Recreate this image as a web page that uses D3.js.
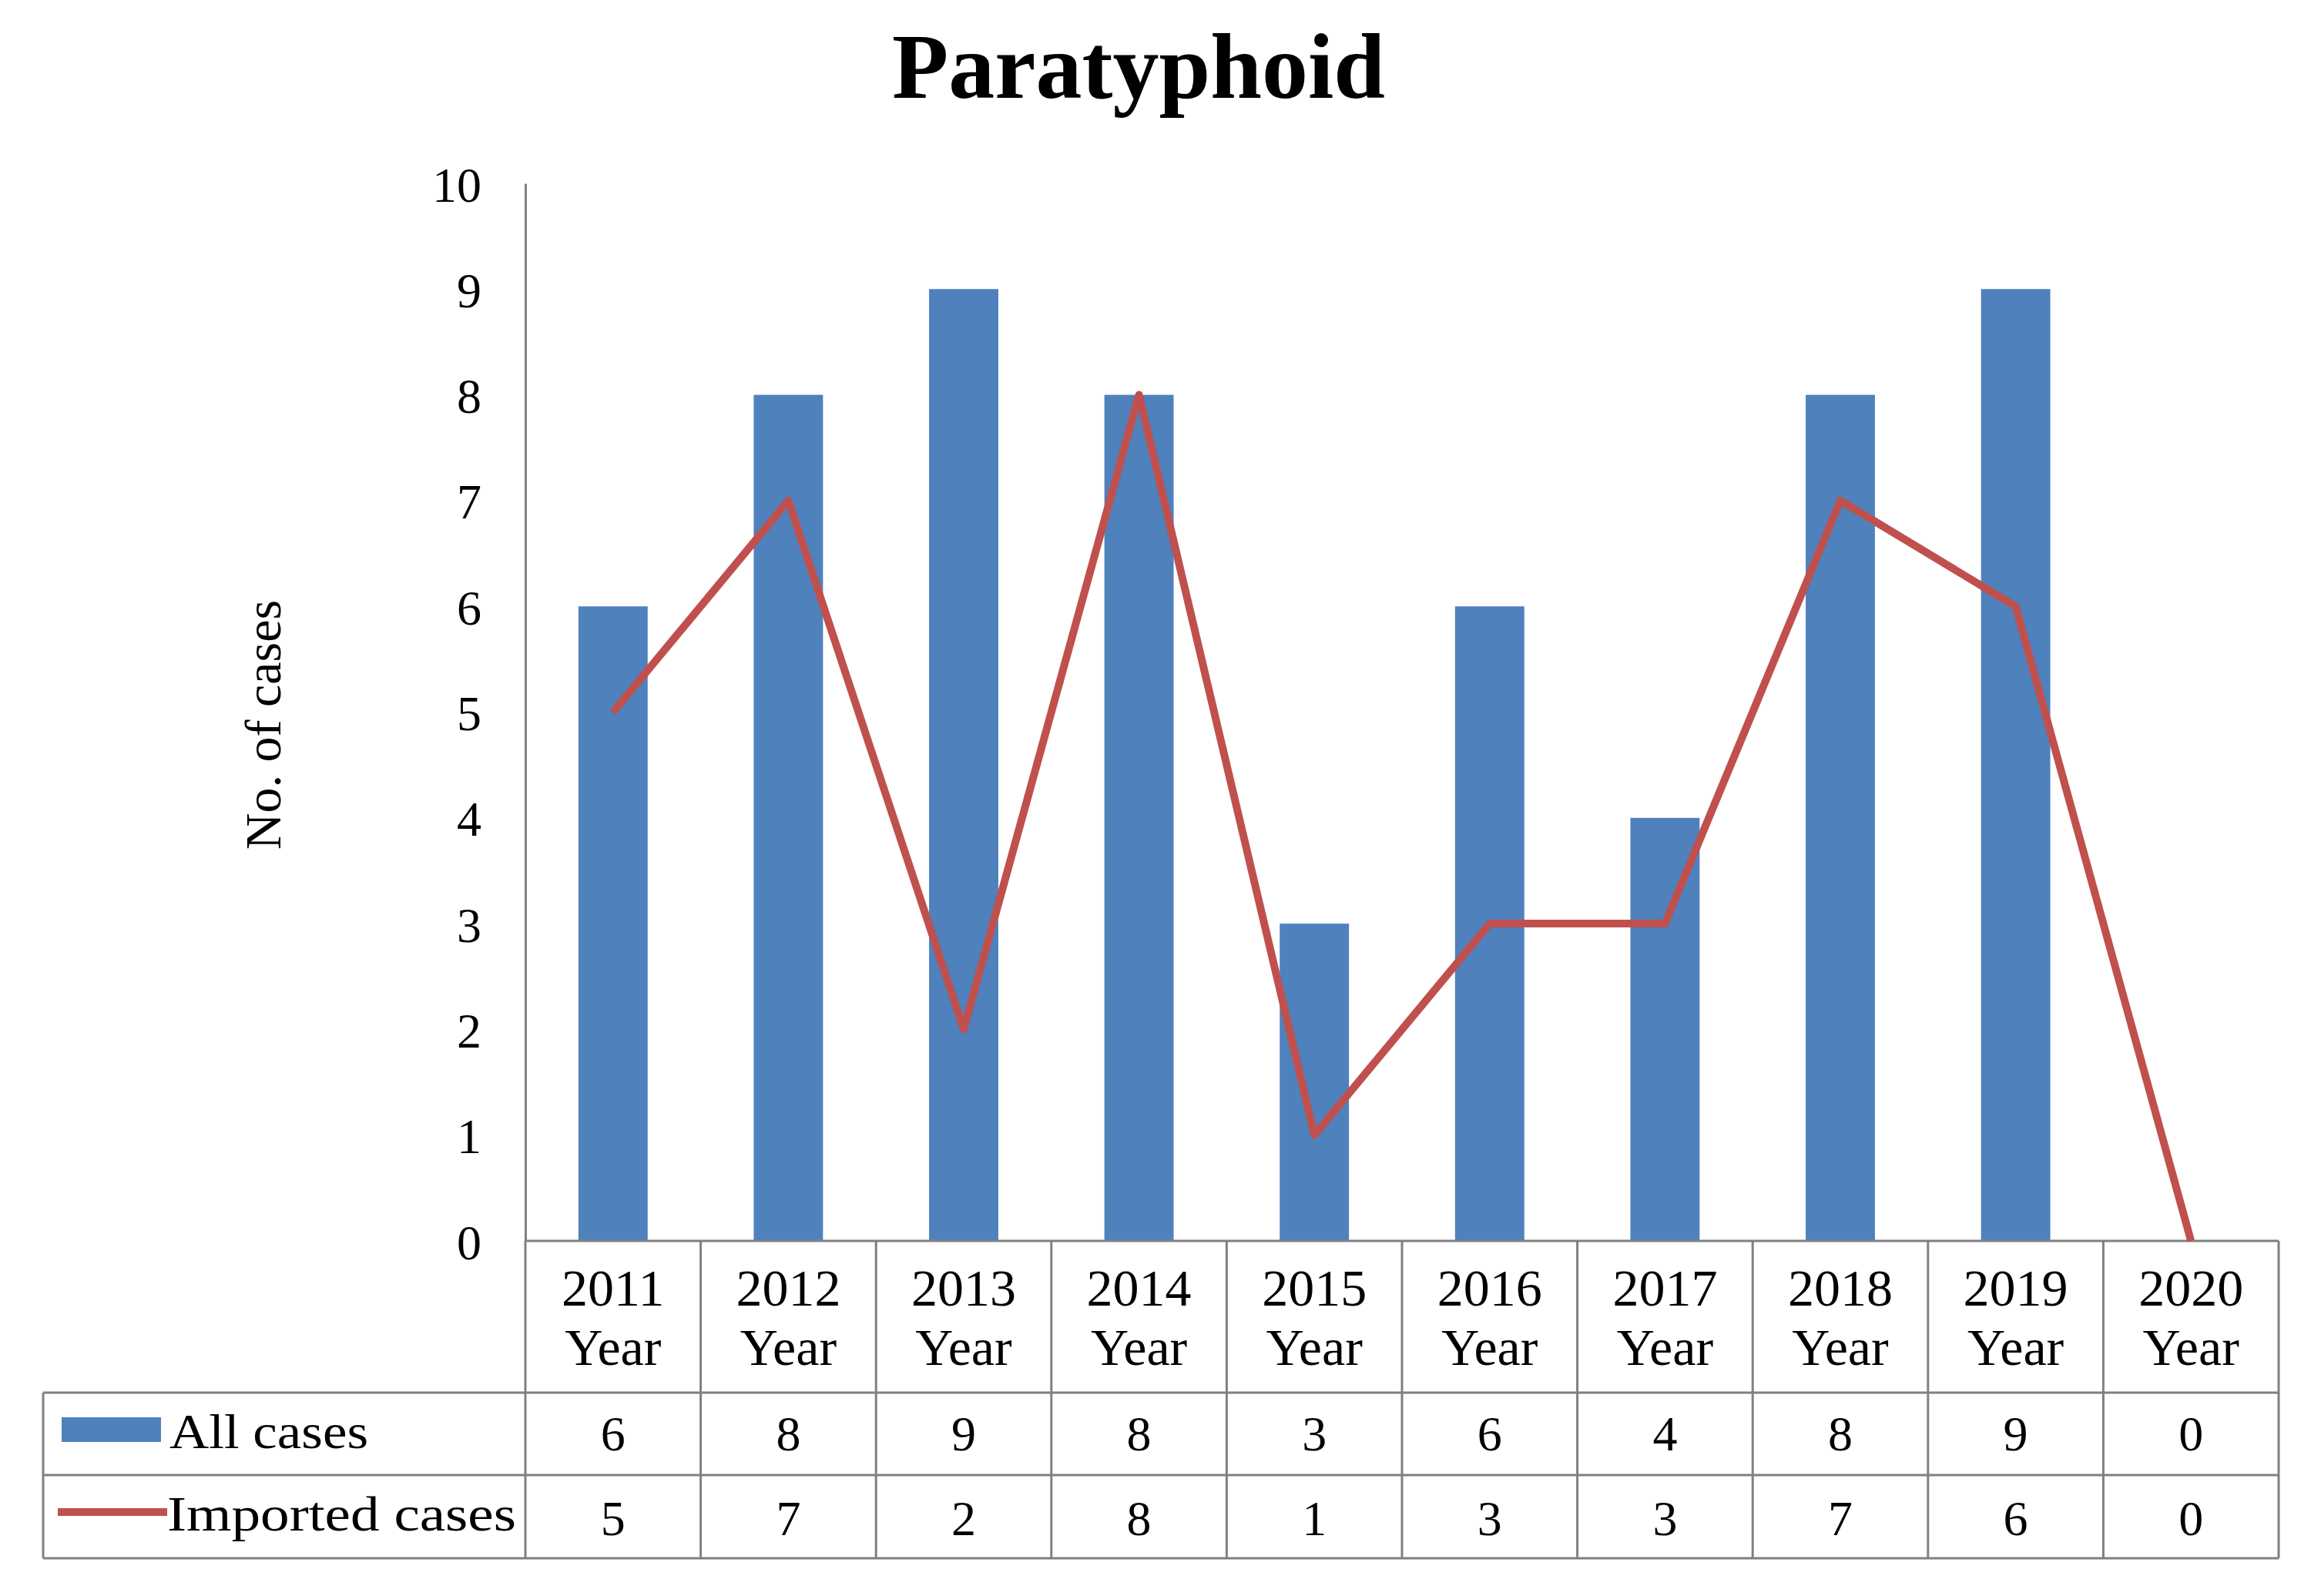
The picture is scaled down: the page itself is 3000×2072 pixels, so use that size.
<!DOCTYPE html>
<html>
<head>
<meta charset="utf-8">
<script src="https://cdn.jsdelivr.net/npm/d3@7"></script>
<style>
  body { margin: 0; background: #fff; }
  text { font-family: "Liberation Serif", "Times New Roman", serif; fill: #000; }
</style>
</head>
<body>
<div id="chart"></div>
<script>
var years = ["2011", "2012", "2013", "2014", "2015", "2016", "2017", "2018", "2019", "2020"];
var allCases = [6, 8, 9, 8, 3, 6, 4, 8, 9, 0];
var importedCases = [5, 7, 2, 8, 1, 3, 3, 7, 6, 0];
var yTicks = [0, 1, 2, 3, 4, 5, 6, 7, 8, 9, 10];
var seriesNames = ["All cases", "Imported cases"];

var W = 3000, H = 2072;
var BLUE = "#4F81BD", RED = "#C0504D", GRID = "#808080";

var svg = d3.select("#chart").append("svg")
  .attr("width", W)
  .attr("height", H);

// title
svg.append("text")
  .attr("x", 1478)
  .attr("y", 127)
  .attr("text-anchor", "middle")
  .style("font-size", "120px")
  .style("font-weight", "bold")
  .text("Paratyphoid");

var x = d3.scaleBand().domain(years).range([682, 2958]).padding(0);
var y = d3.scaleLinear().domain([0, 10]).range([1611, 238]);
var bw = x.bandwidth() * 0.395;

// bars
svg.selectAll("rect.bar")
  .data(allCases)
  .enter().append("rect")
  .attr("class", "bar")
  .attr("x", function(d, i) { return x(years[i]) + (x.bandwidth() - bw) / 2; })
  .attr("y", function(d) { return y(d); })
  .attr("width", bw)
  .attr("height", function(d) { return y(0) - y(d); })
  .attr("fill", BLUE);

// y axis
var yAxis = svg.append("g")
  .attr("transform", "translate(682,0)")
  .call(d3.axisLeft(y).tickValues(yTicks).tickSize(0).tickPadding(57));
yAxis.select(".domain").attr("stroke", GRID).attr("stroke-width", 3);
yAxis.selectAll("text")
  .style("font-size", "64px")
  .style("font-family", "Liberation Serif")
  .attr("dy", "0.36em");

svg.append("text")
  .attr("transform", "translate(364,941) rotate(-90)")
  .attr("text-anchor", "middle")
  .style("font-size", "66px")
  .text("No. of cases");

// data table
var rowTop = [1611, 1808, 1915], rowBot = 2023;
var tbl = svg.append("g").attr("stroke", GRID).attr("stroke-width", 3).attr("fill", "none");
tbl.append("line").attr("x1", 682).attr("x2", 2958).attr("y1", rowTop[0]).attr("y2", rowTop[0]);
[rowTop[1], rowTop[2], rowBot].forEach(function(yy) {
  tbl.append("line").attr("x1", 56).attr("x2", 2958).attr("y1", yy).attr("y2", yy);
});
tbl.append("line").attr("x1", 56).attr("x2", 56).attr("y1", rowTop[1]).attr("y2", rowBot);
tbl.append("line").attr("x1", 682).attr("x2", 682).attr("y1", rowTop[0]).attr("y2", rowBot);
years.forEach(function(yr) {
  var xx = x(yr) + x.bandwidth();
  tbl.append("line").attr("x1", xx).attr("x2", xx).attr("y1", rowTop[0]).attr("y2", rowBot);
});

// header labels
var hdr = svg.selectAll("text.hdr")
  .data(years)
  .enter().append("text")
  .attr("class", "hdr")
  .attr("text-anchor", "middle")
  .style("font-size", "68px");
hdr.append("tspan")
  .attr("x", function(d) { return x(d) + x.bandwidth() / 2; })
  .attr("y", 1695)
  .text(function(d) { return d; });
hdr.append("tspan")
  .attr("x", function(d) { return x(d) + x.bandwidth() / 2; })
  .attr("y", 1772)
  .text("Year");

// values in table
[allCases, importedCases].forEach(function(series, r) {
  svg.selectAll("text.val" + r)
    .data(series)
    .enter().append("text")
    .attr("class", "val" + r)
    .attr("text-anchor", "middle")
    .attr("x", function(d, i) { return x(years[i]) + x.bandwidth() / 2; })
    .attr("y", r === 0 ? 1883 : 1993)
    .style("font-size", "64px")
    .text(function(d) { return d; });
});

// legend keys
svg.append("rect")
  .attr("x", 80).attr("y", 1840).attr("width", 129).attr("height", 32)
  .attr("fill", BLUE);
svg.append("line")
  .attr("x1", 75).attr("x2", 217).attr("y1", 1963).attr("y2", 1963)
  .attr("stroke", RED).attr("stroke-width", 10);
svg.append("text").attr("x", 220).attr("y", 1880)
  .style("font-size", "64px")
  .attr("textLength", 258).attr("lengthAdjust", "spacingAndGlyphs")
  .text(seriesNames[0]);
svg.append("text").attr("x", 217).attr("y", 1987)
  .style("font-size", "64px")
  .attr("textLength", 453).attr("lengthAdjust", "spacingAndGlyphs")
  .text(seriesNames[1]);

// imported line
var line = d3.line()
  .x(function(d, i) { return x(years[i]) + x.bandwidth() / 2; })
  .y(function(d) { return y(d); });
svg.append("path")
  .datum(importedCases)
  .attr("d", line)
  .attr("fill", "none")
  .attr("stroke", RED)
  .attr("stroke-width", 10)
  .attr("stroke-linejoin", "round");
</script>
</body>
</html>
